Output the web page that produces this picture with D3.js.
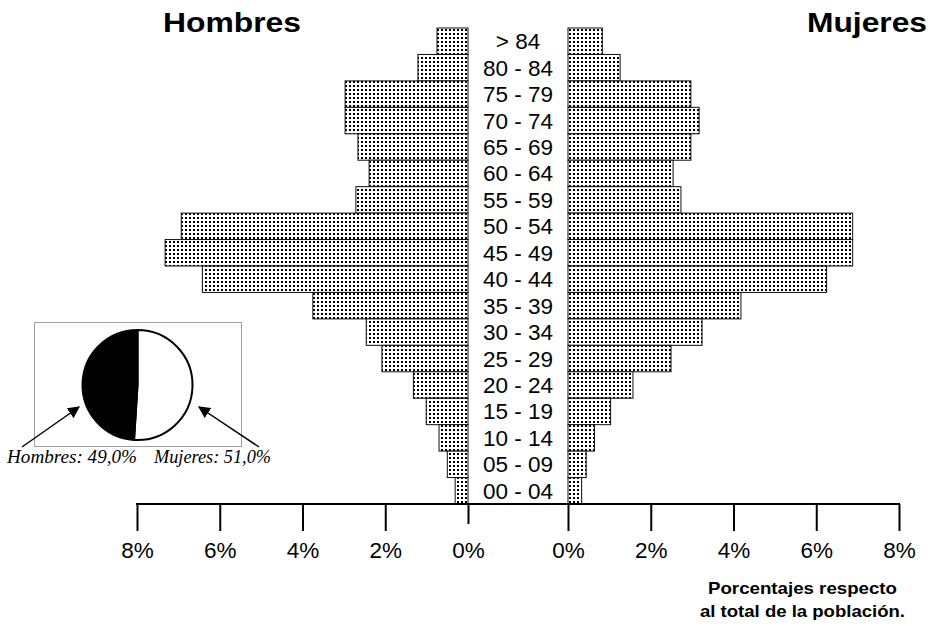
<!DOCTYPE html>
<html>
<head>
<meta charset="utf-8">
<script src="https://cdn.jsdelivr.net/npm/d3@7"></script>
<style>
html,body{margin:0;padding:0;background:#fff;}
svg{display:block;}
</style>
</head>
<body>
<svg id="chart" width="931" height="626"></svg>
<script>
// ---- data ----
const ageGroups = ["> 84","80 - 84","75 - 79","70 - 74","65 - 69","60 - 64","55 - 59","50 - 54","45 - 49","40 - 44","35 - 39","30 - 34","25 - 29","20 - 24","15 - 19","10 - 14","05 - 09","00 - 04"];
const hombres = [0.75,1.21,2.97,2.97,2.66,2.39,2.71,6.93,7.32,6.42,3.75,2.46,2.08,1.32,1.01,0.70,0.50,0.31];
const mujeres = [0.83,1.26,2.97,3.17,2.97,2.54,2.73,6.88,6.88,6.25,4.18,3.24,2.49,1.57,1.03,0.64,0.44,0.33];
const tickValues = [0,2,4,6,8];
const sexLabels = ["Hombres","Mujeres"];
const sexShares = [49.0, 51.0];

const svg = d3.select("#chart");

// pattern
const defs = svg.append("defs");
const pat = defs.append("pattern").attr("id","dots").attr("patternUnits","userSpaceOnUse")
  .attr("width",4).attr("height",4);
pat.append("rect").attr("width",4).attr("height",4).attr("fill","#fff");
pat.append("rect").attr("x",1).attr("y",1).attr("width",2).attr("height",2).attr("fill","#000")
  .attr("shape-rendering","crispEdges");

const mk = defs.append("marker").attr("id","arrow").attr("viewBox","0 0 10 10")
  .attr("refX",9).attr("refY",5).attr("markerWidth",12).attr("markerHeight",12)
  .attr("markerUnits","userSpaceOnUse").attr("orient","auto");
mk.append("path").attr("d","M0,0 L10,5 L0,10 Z").attr("fill","#000");

// scales
const y = d3.scaleBand().domain(ageGroups).range([28,504]).padding(0);
const xL = d3.scaleLinear().domain([0,8]).range([468,137]);
const xR = d3.scaleLinear().domain([0,8]).range([568,899]);

// bars
svg.append("g").selectAll("rect").data(ageGroups).join("rect")
  .attr("x",(d,i)=>xL(hombres[i]))
  .attr("y",d=>y(d))
  .attr("width",(d,i)=>xL(0)-xL(hombres[i]))
  .attr("height",y.bandwidth())
  .attr("fill","url(#dots)").attr("stroke","#111").attr("stroke-width",1);

svg.append("g").selectAll("rect").data(ageGroups).join("rect")
  .attr("x",xR(0))
  .attr("y",d=>y(d))
  .attr("width",(d,i)=>xR(mujeres[i])-xR(0))
  .attr("height",y.bandwidth())
  .attr("fill","url(#dots)").attr("stroke","#111").attr("stroke-width",1);

// age labels
svg.append("g").selectAll("text").data(ageGroups).join("text")
  .attr("x",518).attr("y",d=>y(d)+y.bandwidth()/2+8)
  .attr("text-anchor","middle")
  .attr("font-family","Liberation Sans, Arial, sans-serif")
  .attr("font-size",22.5).attr("fill","#000")
  .text(d=>d);

// axes
function styleAxis(g){
  g.select(".domain").remove();
  g.selectAll(".tick line").attr("stroke","#000").attr("stroke-width",2);
  g.selectAll(".tick text").attr("font-family","Liberation Sans, Arial, sans-serif")
    .attr("font-size",22.5).attr("fill","#000").attr("dy",0).attr("y",54);
}
const axL = svg.append("g").attr("transform","translate(0,504)")
  .call(d3.axisBottom(xL).tickValues(tickValues).tickSize(27).tickFormat(d=>d+"%"));
styleAxis(axL);
axL.selectAll(".tick line").filter(d=>d===0).attr("y2",20);
const axR = svg.append("g").attr("transform","translate(0,504)")
  .call(d3.axisBottom(xR).tickValues(tickValues).tickSize(27).tickFormat(d=>d+"%"));
styleAxis(axR);
svg.append("line").attr("x1",xL(8)-1).attr("x2",xR(8)+1).attr("y1",504).attr("y2",504)
  .attr("stroke","#000").attr("stroke-width",2);

// titles
svg.append("text").attr("x",163).attr("y",32)
  .attr("font-family","Liberation Sans, Arial, sans-serif").attr("font-weight","bold")
  .attr("font-size",28.5).attr("textLength",138).attr("lengthAdjust","spacingAndGlyphs")
  .text(sexLabels[0]);
svg.append("text").attr("x",807).attr("y",32)
  .attr("font-family","Liberation Sans, Arial, sans-serif").attr("font-weight","bold")
  .attr("font-size",28.5).attr("textLength",120).attr("lengthAdjust","spacingAndGlyphs")
  .text(sexLabels[1]);

// footnote
const fn = svg.append("text").attr("text-anchor","middle")
  .attr("font-family","Liberation Sans, Arial, sans-serif").attr("font-weight","bold")
  .attr("font-size",17);
fn.append("tspan").attr("x",802.5).attr("y",594).attr("textLength",189).attr("lengthAdjust","spacingAndGlyphs").text("Porcentajes respecto");
fn.append("tspan").attr("x",802.5).attr("y",617).attr("textLength",205).attr("lengthAdjust","spacingAndGlyphs").text("al total de la población.");

// inset pie
svg.append("rect").attr("x",34.5).attr("y",322.5).attr("width",207).attr("height",124)
  .attr("fill","#fff").attr("stroke","#a0a0a0").attr("stroke-width",1);
const pie = d3.pie().sort(null).value(d=>d)([sexShares[1], sexShares[0]]);
const arc = d3.arc().innerRadius(0).outerRadius(55);
svg.append("g").attr("transform","translate(137.5,385)")
  .selectAll("path").data(pie).join("path")
  .attr("d",arc)
  .attr("fill",(d,i)=>i===0?"#fff":"#000")
  .attr("stroke","#000").attr("stroke-width",2);

// arrows
svg.append("line").attr("x1",22).attr("y1",447).attr("x2",79).attr("y2",407)
  .attr("stroke","#000").attr("stroke-width",1.5).attr("marker-end","url(#arrow)");
svg.append("line").attr("x1",259).attr("y1",447).attr("x2",199).attr("y2",407)
  .attr("stroke","#000").attr("stroke-width",1.5).attr("marker-end","url(#arrow)");

svg.append("text").attr("x",7).attr("y",463)
  .attr("font-family","Liberation Serif, Times New Roman, serif").attr("font-style","italic")
  .attr("font-size",18.5).attr("textLength",130).attr("lengthAdjust","spacingAndGlyphs")
  .text(sexLabels[0]+": "+sexShares[0].toFixed(1).replace(".",",")+"%");
svg.append("text").attr("x",154).attr("y",463)
  .attr("font-family","Liberation Serif, Times New Roman, serif").attr("font-style","italic")
  .attr("font-size",18.5).attr("textLength",117).attr("lengthAdjust","spacingAndGlyphs")
  .text(sexLabels[1]+": "+sexShares[1].toFixed(1).replace(".",",")+"%");
</script>
</body>
</html>
